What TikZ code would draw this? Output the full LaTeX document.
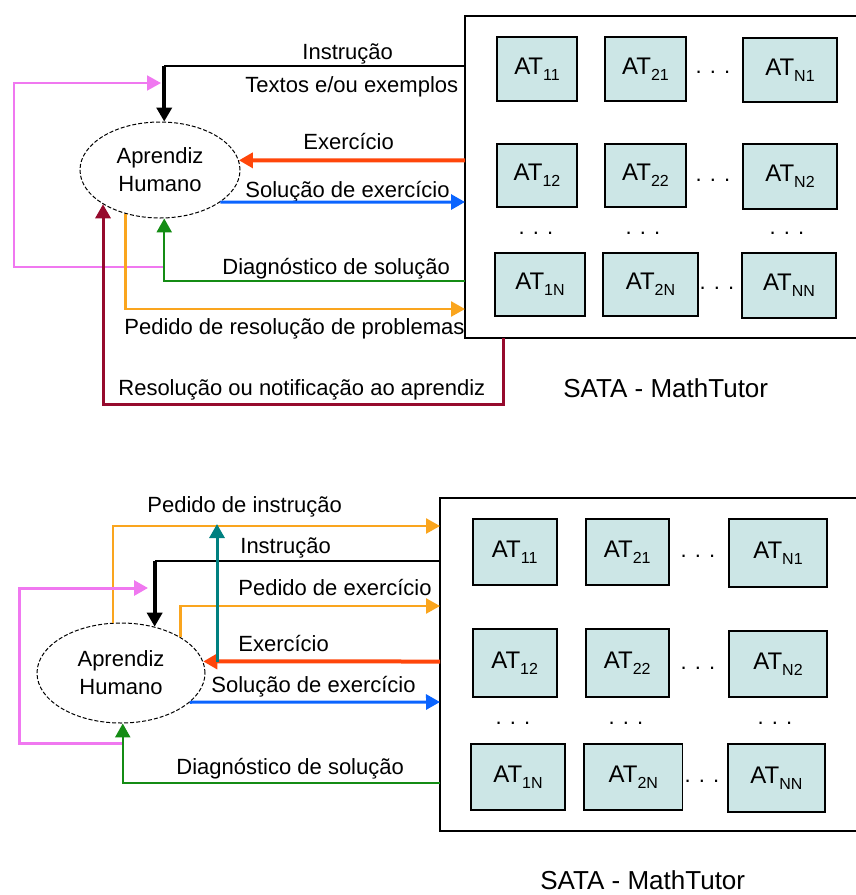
\documentclass[tikz,border=0pt]{standalone}
\usepackage{fontspec}
\setmainfont{Liberation Sans}
\usepackage{tikz}
\usetikzlibrary{arrows.meta,shapes.geometric}
\definecolor{boxfill}{RGB}{204,230,230}
\definecolor{pinkln}{RGB}{240,120,240}
\definecolor{redln}{RGB}{255,70,10}
\definecolor{blueln}{RGB}{10,100,255}
\definecolor{greenln}{RGB}{20,140,20}
\definecolor{orangeln}{RGB}{250,165,30}
\definecolor{maroonln}{RGB}{150,10,45}
\definecolor{tealln}{RGB}{0,128,128}
\newcommand{\atn}[1]{AT\raisebox{-3pt}{\fontsize{8}{9}\selectfont #1}}

\begin{document}
\begin{tikzpicture}[x=0.5pt,y=-0.5pt,
		lbl/.style={anchor=base west,inner sep=0pt,font=\fontsize{11}{13}\selectfont},
		atbox/.style={draw,line width=0.8pt,fill=boxfill,inner sep=0pt,font=\fontsize{12}{14}\selectfont},
		sataframe/.style={draw,line width=0.8pt,inner sep=0pt},
		learner/.style={ellipse,draw,dash pattern=on 2pt off 1pt,line width=0.5pt,align=center,inner sep=0pt,font=\fontsize{11}{14}\selectfont},
		dotsrow/.style={anchor=base,inner sep=0pt,font=\fontsize{11}{13}\selectfont},
		arr/.style={-{Triangle[length=7pt,width=7.5pt]}}]
		\useasboundingbox (0,0) rectangle (856,895);
		\node[sataframe,minimum width=205pt,minimum height=161pt] (sata1) at (670,177) {};
		\node[learner,minimum width=80pt,minimum height=48pt] (ap1) at (160,170) {Aprendiz\\Humano};
		\node[atbox,minimum width=40pt,minimum height=32pt] (a11) at (537,69) {\atn{11}};
		\node[atbox,minimum width=40.5pt,minimum height=32pt] (a21) at (645.5,69) {\atn{21}};
		\node[atbox,minimum width=47pt,minimum height=32pt] (an1) at (790,70) {\atn{N1}};
		\node[atbox,minimum width=40pt,minimum height=31.5pt] (a12) at (537,175.5) {\atn{12}};
		\node[atbox,minimum width=40.5pt,minimum height=31.5pt] (a22) at (645.5,175.5) {\atn{22}};
		\node[atbox,minimum width=47pt,minimum height=32.5pt] (an2) at (790,176.5) {\atn{N2}};
		\node[atbox,minimum width=45pt,minimum height=31.5pt] (a1n) at (540,284.5) {\atn{1N}};
		\node[atbox,minimum width=47.5pt,minimum height=31.5pt] (a2n) at (650.5,284.5) {\atn{2N}};
		\node[atbox,minimum width=47pt,minimum height=32.5pt] (ann) at (789,285.5) {\atn{NN}};
		\node[dotsrow] (ah1) at (713,73.5) {. . .};
		\node[dotsrow] (ah2) at (713,181.5) {. . .};
		\node[dotsrow] (ah3) at (717,289.5) {. . .};
		\node[dotsrow] (av1) at (536,234.5) {. . .};
		\node[dotsrow] (av2) at (643,234.5) {. . .};
		\node[dotsrow] (av3) at (787,234.5) {. . .};
		\node[lbl] (li1) at (302,59) {Instrução};
		\node[lbl] (lt1) at (245,92) {Textos e/ou exemplos};
		\node[lbl] (le1) at (303,149) {Exercício};
		\node[lbl] (ls1) at (245,197) {Solução de exercício};
		\node[lbl] (ld1) at (222,274) {Diagnóstico de solução};
		\node[lbl] (lp1) at (124,334) {Pedido de resolução de problemas};
		\node[lbl] (lr1) at (118,395) {Resolução ou notificação ao aprendiz};
		\node[lbl,font=\fontsize{13}{15}\selectfont] (lsata1) at (563,397) {SATA - MathTutor};
		\coordinate (ti) at (465,66);
		\coordinate (tk) at (ti -| ap1.85);
		\coordinate (tp1) at (164,267);
		\coordinate (tp2) at (161,83);
		\coordinate (te) at (465,160.4);
		\coordinate (tb) at (465,202);
		\coordinate (tg) at (465,281);
		\coordinate (to) at (465,309);
		\coordinate (tm) at (503,338);
		\draw[arr,line width=1pt,pinkln] (tp1) -- ++(-150,0) |- (tp2);
		\draw[line width=1pt] (ti) -- (tk);
		\draw[arr,line width=2pt] (tk) -- (ap1.85);
		\draw[arr,line width=2pt,redln] (te) -- (ap1.7);
		\draw[arr,line width=1.5pt,blueln] (ap1.332) -- (tb);
		\draw[arr,line width=1.2pt,greenln] (tg) -| (ap1.275);
		\draw[arr,line width=1.3pt,orangeln] (ap1.232) |- (to);
		\draw[arr,line width=1.5pt,maroonln] (tm) -- ++(0,66) -| (ap1.211);
		\node[sataframe,minimum width=217.5pt,minimum height=166.5pt] (sata2) at (657.5,664.5) {};
		\node[learner,minimum width=84pt,minimum height=50pt] (ap2) at (121,673) {Aprendiz\\Humano};
		\node[atbox,minimum width=42pt,minimum height=33pt] (b11) at (514.7,552) {\atn{11}};
		\node[atbox,minimum width=41.5pt,minimum height=33pt] (b21) at (627.3,552) {\atn{21}};
		\node[atbox,minimum width=49pt,minimum height=34pt] (bn1) at (778,553) {\atn{N1}};
		\node[atbox,minimum width=42pt,minimum height=34pt] (b12) at (514.7,663) {\atn{12}};
		\node[atbox,minimum width=41.5pt,minimum height=34pt] (b22) at (627.3,663) {\atn{22}};
		\node[atbox,minimum width=49pt,minimum height=33pt] (bn2) at (778,664) {\atn{N2}};
		\node[atbox,minimum width=47pt,minimum height=33pt] (b1n) at (518,777) {\atn{1N}};
		\node[atbox,minimum width=49.3pt,minimum height=33pt] (b2n) at (633.3,777) {\atn{2N}};
		\node[atbox,minimum width=48.5pt,minimum height=34pt] (bnn) at (776.4,778) {\atn{NN}};
		\node[dotsrow] (bh1) at (698,557.5) {. . .};
		\node[dotsrow] (bh2) at (698,669.5) {. . .};
		\node[dotsrow] (bh3) at (702,782.5) {. . .};
		\node[dotsrow] (bv1) at (513,724.5) {. . .};
		\node[dotsrow] (bv2) at (626,724.5) {. . .};
		\node[dotsrow] (bv3) at (775,724.5) {. . .};
		\node[lbl] (lpi2) at (147,512) {Pedido de instrução};
		\node[lbl] (li2) at (240,553) {Instrução};
		\node[lbl] (lpe2) at (238,595) {Pedido de exercício};
		\node[lbl] (le2) at (238,651) {Exercício};
		\node[lbl] (ls2) at (211,692) {Solução de exercício};
		\node[lbl] (ld2) at (176,774) {Diagnóstico de solução};
		\node[lbl,font=\fontsize{13}{15}\selectfont] (lsata2) at (540,889) {SATA - MathTutor};
		\coordinate (bo1) at (440,526);
		\coordinate (bi) at (440,561);
		\coordinate (bk) at (bi -| ap2.54);
		\coordinate (bo2) at (440,606);
		\coordinate (be) at (440,661.5);
		\coordinate (bt1) at (217,661.5);
		\coordinate (bt2) at (217,524);
		\coordinate (bb) at (440,702);
		\coordinate (bg) at (440,783);
		\coordinate (bp1) at (122,743);
		\coordinate (bp2) at (148,588);
		\draw[arr,line width=1.3pt,orangeln] (ap2.99) |- (bo1);
		\draw[arr,line width=1.5pt,pinkln] (bp1) -- ++(-103,0) |- (bp2);
		\draw[line width=1pt] (bi) -- (bk);
		\draw[arr,line width=2pt] (bk) -- (ap2.54);
		\draw[arr,line width=1.3pt,orangeln] (ap2.31) |- (bo2);
		\draw[arr,line width=2pt,redln] (be) -- (ap2.8);
		\draw[arr,line width=1.5pt,tealln] (bt1) -- (bt2);
		\draw[arr,line width=1.5pt,blueln] (ap2.337) -- (bb);
		\draw[arr,line width=1.2pt,greenln] (bg) -| (ap2.272);
\end{tikzpicture}
\end{document}
